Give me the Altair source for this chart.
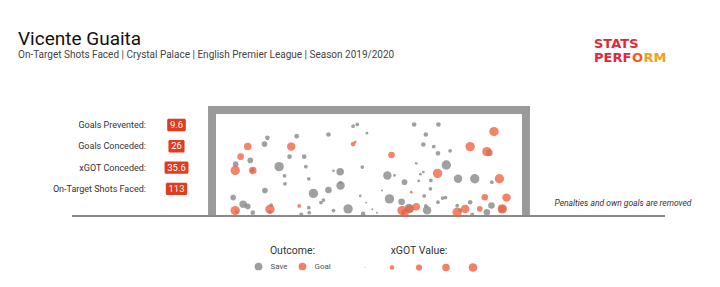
import altair as alt
import pandas as pd

# ---------------- data ----------------
TITLE = "Vicente Guaita"
SUBTITLE = "On-Target Shots Faced | Crystal Palace | English Premier League | Season 2019/2020"
STAT_LABELS = ["Goals Prevented:", "Goals Conceded:", "xGOT Conceded:", "On-Target Shots Faced:"]
STAT_VALUES = ["9.6", "26", "35.6", "113"]
NOTE = "Penalties and own goals are removed"
OUTCOMES = ["Save", "Goal"]
XGOT_LEGEND_VALUES = [0, 0.2, 0.4, 0.6, 0.8]

GOAL_WIDTH = 7.32   # metres
GOAL_HEIGHT = 2.44  # metres

# saved shots: position across goal mouth (m from left post), height (m), xGOT
SAVE_X = [1.23, 1.16, 0.82, 0.47, 0.87, 1.51, 1.64, 1.65, 1.17, 0.41, 0.65, 0.76, 0.50, 0.88, 1.32, 1.29,
          3.28, 3.38, 2.69, 1.93, 1.76, 2.11, 3.33, 3.61, 2.15, 2.81, 2.97, 3.50, 2.22, 2.98, 2.69, 2.33,
          2.57, 2.51, 3.45, 3.16, 2.22, 2.23, 2.04, 2.81, 3.52, 2.98,
          4.74, 5.32, 5.02, 4.96, 5.21, 5.31, 4.79, 5.51, 4.96, 4.89, 4.10, 4.27, 4.51, 4.85, 5.14, 5.13,
          3.97, 4.98, 4.15, 4.44, 5.31, 3.59, 5.49, 5.42, 3.74, 3.85, 4.62, 5.05, 5.02,
          6.54, 5.60, 5.79, 6.19, 6.60, 6.08, 5.77, 5.84, 6.13, 6.48, 6.59, 6.84]
SAVE_Y = [1.87, 1.72, 1.33, 1.24, 1.09, 1.18, 0.96, 0.77, 0.61, 0.44, 0.28, 0.23, 0.10, 0.08, 0.26, 0.10,
          2.15, 2.19, 1.95, 1.91, 1.42, 1.42, 1.77, 1.98, 1.18, 1.08, 1.06, 1.17, 0.89, 0.73, 0.62, 0.54,
          0.38, 0.32, 0.48, 0.17, 0.20, 0.08, 0.04, 0.13, 0.05, 0.80,
          2.19, 2.19, 1.95, 1.71, 1.66, 1.50, 1.26, 1.22, 1.05, 1.00, 0.97, 0.97, 0.81, 0.84, 0.85, 0.65,
          0.61, 0.48, 0.41, 0.34, 0.33, 0.32, 0.44, 0.43, 0.16, 0.08, 0.18, 0.14, 0.24,
          1.51, 1.56, 0.89, 0.89, 0.81, 0.33, 0.25, 0.14, 0.04, 0.09, 0.25, 0.17]
SAVE_XGOT = [0.22, 0.33, 0.33, 0.33, 0.22, 0.92, 0.14, 0.14, 0.33, 0.33, 0.59, 0.33, 0.14, 0.22, 0.14, 0.14,
             0.14, 0.14, 0.22, 0.22, 0.22, 0.22, 0.07, 0.07, 0.14, 0.07, 0.59, 0.14, 0.14, 0.75, 0.45, 0.92,
             0.14, 0.14, 0.07, 0.92, 0.14, 0.14, 0.14, 0.14, 0.22, 0.07,
             0.22, 0.22, 0.22, 0.22, 0.14, 0.22, 0.07, 0.92, 0.07, 0.07, 0.75, 0.07, 0.33, 0.07, 0.14, 0.14,
             0.03, 0.14, 0.92, 0.45, 0.14, 0.03, 0.14, 0.14, 0.03, 0.03, 0.92, 0.75, 0.14,
             0.45, 0.14, 0.75, 0.92, 0.14, 0.22, 0.14, 0.14, 0.14, 0.45, 0.45, 0.59]

# goals conceded
GOAL_X = [0.76, 0.59, 0.46, 0.88, 0.46, 1.29, 1.80, 3.28, 1.99, 4.20, 5.30, 4.67, 4.79,
          4.45, 4.52, 4.64, 6.65, 6.08, 6.48, 6.78, 6.43, 6.95, 5.96, 5.77, 6.31, 6.85]
GOAL_Y = [1.66, 1.42, 1.09, 1.09, 0.13, 0.16, 1.66, 1.72, 0.24, 1.46, 1.02, 0.57, 0.22,
          0.13, 0.07, 0.17, 2.02, 1.66, 1.54, 0.89, 0.45, 0.44, 0.17, 0.09, 0.17, 0.17]
GOAL_XGOT = [0.59, 0.45, 0.92, 0.59, 0.92, 0.92, 0.75, 0.22, 0.14, 0.45, 0.92, 0.07, 0.59,
             0.92, 0.59, 0.59, 0.92, 0.92, 0.92, 0.92, 0.45, 0.75, 0.75, 0.92, 0.33, 0.92]

# ---------------- layout ----------------
W, H_TOTAL = 720, 287
TOP = 70
H = H_TOTAL - TOP
PPM = 41.8            # pixels per metre
GOAL_LEFT_PX = 216    # page x of left post (inner edge)
GROUND_PX = 216       # page y of the ground line
POST = 0.19           # frame thickness in metres


def mx(px):
    return (px - GOAL_LEFT_PX) / PPM


def my(py):
    return (GROUND_PX - py) / PPM


XDOM = [mx(0), mx(W)]
YDOM = [my(H_TOTAL), my(TOP)]
XS = alt.Scale(domain=XDOM, nice=False, zero=False)
YS = alt.Scale(domain=YDOM, nice=False, zero=False)

SAVE_COLOR = "#858585"
GOAL_COLOR = "#f0603f"
RED = "#e23b1e"
FONT = "Roboto"

# ---------------- tables ----------------
shots = pd.concat([
    pd.DataFrame({"x": SAVE_X, "y": SAVE_Y, "xgot": SAVE_XGOT, "outcome": "Save"}),
    pd.DataFrame({"x": GOAL_X, "y": GOAL_Y, "xgot": GOAL_XGOT, "outcome": "Goal"}),
], ignore_index=True)

frame = pd.DataFrame({
    "x": [-POST, GOAL_WIDTH, -POST],
    "x2": [0, GOAL_WIDTH + POST, GOAL_WIDTH + POST],
    "y": [0, 0, GOAL_HEIGHT],
    "y2": [GOAL_HEIGHT + POST, GOAL_HEIGHT + POST, GOAL_HEIGHT + POST],
})

ground = pd.DataFrame({"x": [mx(72)], "x2": [mx(665)], "y": [0.0]})


def box_w(t):
    digits = sum(c.isdigit() for c in t)
    dots = t.count(".")
    return (5.5 + 5.3 * digits + 2.5 * dots) / PPM


stats = pd.DataFrame({
    "label": STAT_LABELS,
    "value": STAT_VALUES,
    "y": [my(125 + i * 21.3) for i in range(len(STAT_LABELS))],
})
stats["lx"] = mx(146)
stats["vx"] = mx(176.5)
stats["bx"] = [mx(176.5) - box_w(v) / 2 for v in STAT_VALUES]
stats["bx2"] = [mx(176.5) + box_w(v) / 2 for v in STAT_VALUES]
stats["by"] = stats["y"] - 6.2 / PPM
stats["by2"] = stats["y"] + 6.2 / PPM

# ---------------- layers ----------------
frame_l = alt.Chart(frame).mark_rect(color="#9a9a9a").encode(
    x=alt.X("x:Q", scale=XS, axis=None), x2="x2:Q",
    y=alt.Y("y:Q", scale=YS, axis=None), y2="y2:Q")

ground_l = alt.Chart(ground).mark_rule(color="#8a8a8a", strokeWidth=2).encode(
    x=alt.X("x:Q", scale=XS, axis=None), x2="x2:Q",
    y=alt.Y("y:Q", scale=YS, axis=None))

points = alt.Chart(shots).mark_circle(opacity=0.78, strokeWidth=0).encode(
    x=alt.X("x:Q", scale=XS, axis=None),
    y=alt.Y("y:Q", scale=YS, axis=None),
    color=alt.Color("outcome:N",
                    scale=alt.Scale(domain=OUTCOMES, range=[SAVE_COLOR, GOAL_COLOR]),
                    legend=alt.Legend(title="Outcome:", orient="none", legendX=254.5, legendY=176,
                                      direction="horizontal", titleAnchor="middle",
                                      symbolType="circle", symbolSize=60, symbolOpacity=0.8,
                                      symbolStrokeWidth=0, labelFont=FONT, labelFontSize=8,
                                      labelColor="#555", titleFont=FONT, titleFontSize=10.5,
                                      titleFontWeight="normal", titleColor="#333",
                                      titlePadding=6, labelOffset=8, columnPadding=10,
                                      padding=0)),
    size=alt.Size("xgot:Q", scale=alt.Scale(domain=[0, 1], range=[1, 95]),
                  legend=alt.Legend(title="xGOT Value:", orient="none", legendX=360, legendY=176,
                                    direction="horizontal", titleAnchor="middle",
                                    values=XGOT_LEGEND_VALUES, labelExpr="''",
                                    symbolType="circle", symbolFillColor=GOAL_COLOR,
                                    symbolOpacity=0.8, symbolStrokeWidth=0,
                                    titleFont=FONT, titleFontSize=10.5, titleFontWeight="normal",
                                    titleColor="#333", titlePadding=6, labelOffset=0,
                                    columnPadding=17, padding=0)),
    order=alt.Order("order:Q"),
).transform_calculate(order="datum.outcome == 'Save' ? 0 : 1")

labels_l = alt.Chart(stats).mark_text(align="right", baseline="middle", font=FONT,
                                      fontSize=9, color="#333").encode(
    x=alt.X("lx:Q", scale=XS, axis=None), y=alt.Y("y:Q", scale=YS, axis=None), text="label:N")

boxes_l = alt.Chart(stats).mark_rect(color=RED, cornerRadius=1.5).encode(
    x=alt.X("bx:Q", scale=XS, axis=None), x2="bx2:Q",
    y=alt.Y("by:Q", scale=YS, axis=None), y2="by2:Q")

values_l = alt.Chart(stats).mark_text(align="center", baseline="middle", font=FONT,
                                      fontSize=9.5, color="white").encode(
    x=alt.X("vx:Q", scale=XS, axis=None), y=alt.Y("y:Q", scale=YS, axis=None), text="value:N")

note_l = alt.Chart(pd.DataFrame({"t": [NOTE], "x": [mx(623)], "y": [my(203.3)]})).mark_text(
    align="center", baseline="middle", font=FONT, fontSize=8.5, fontStyle="italic", color="#333").encode(
    x=alt.X("x:Q", scale=XS, axis=None), y=alt.Y("y:Q", scale=YS, axis=None), text="t:N")

logo = pd.DataFrame({
    "t": ["STATS", "PERF", "O", "RM"],
    "x": [mx(594), mx(594), mx(637.5), mx(643.5)],
    "y": [my(47.5), my(62), my(62), my(62)],
    "c": ["#e0283c", "#e0283c", "#f05a28", "#f5a01a"],
    "a": ["left", "left", "center", "left"],
})
logo_layers = []
for _, r in logo.iterrows():
    logo_layers.append(
        alt.Chart(pd.DataFrame([r])).mark_text(
            align=r["a"], baseline="alphabetic", font="DejaVu Sans", fontWeight="bold",
            fontSize=13, color=r["c"]).encode(
            x=alt.X("x:Q", scale=XS, axis=None), y=alt.Y("y:Q", scale=YS, axis=None), text="t:N"))

chart = alt.layer(frame_l, ground_l, points, labels_l, boxes_l, values_l, note_l, *logo_layers).properties(
    width=W, height=H,
    title=alt.Title(TITLE, subtitle=SUBTITLE, anchor="start", dx=18, dy=30, font=FONT, fontSize=19,
                    fontWeight="normal", color="#111", subtitleFont=FONT, subtitleFontSize=10,
                    subtitleColor="#444", subtitlePadding=1, offset=8),
    padding={"left": 0, "top": TOP, "right": 0, "bottom": 0},
    autosize="none",
    background="white",
).configure_view(stroke=None)

chart.save("out.html", embed_options={"renderer": "svg", "actions": False})
